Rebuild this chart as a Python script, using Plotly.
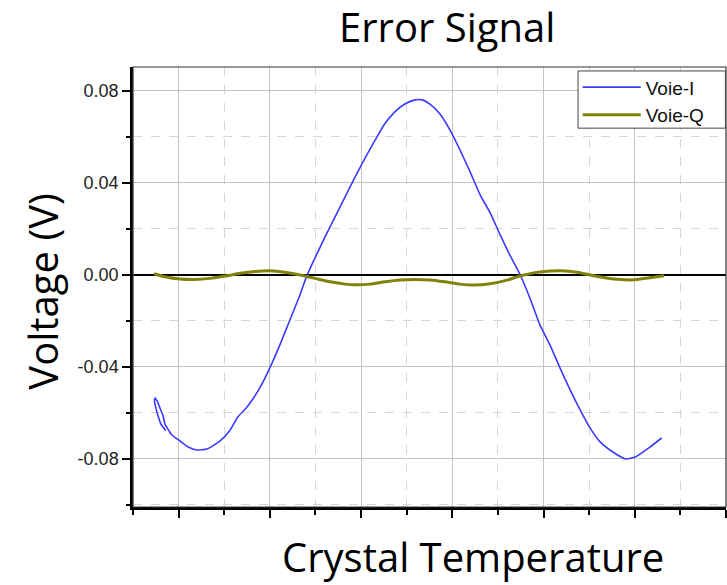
import plotly.graph_objects as go

# ---- data (arbitrary temperature units, voltage in V) ----
voie_i_x = [0.72, 0.61, 0.55, 0.50, 0.47, 0.48, 0.53, 0.59, 0.66, 0.70, 0.79, 0.85,
            1.03, 1.21, 1.40, 1.62, 1.91, 2.13, 2.30, 2.50, 2.78, 3.00, 3.22, 3.44, 3.66, 3.81,
            3.99, 4.21, 4.43, 4.65, 4.87, 5.09, 5.31, 5.52, 5.74, 5.96, 6.18, 6.34, 6.51, 6.73,
            6.95, 7.17, 7.39, 7.61, 7.83, 8.05, 8.26, 8.48, 8.70, 8.92, 9.14, 9.36, 9.69, 10.02,
            10.24, 10.52, 10.80, 11.02, 11.31, 11.59]
voie_i_y = [-0.0678, -0.0648, -0.0613, -0.0578, -0.0548, -0.0535, -0.0548, -0.0578, -0.0613,
            -0.0648, -0.0678, -0.0696, -0.0722, -0.0748, -0.0761, -0.0757,
            -0.0722, -0.0674, -0.0617, -0.0574, -0.0491, -0.0404, -0.0304, -0.0196, -0.0087,
            -0.0004, 0.0074, 0.0165, 0.0252, 0.0339, 0.0426, 0.0509, 0.0587, 0.0657, 0.0709,
            0.0743, 0.0761, 0.0761, 0.0743, 0.0700, 0.0630, 0.0543, 0.0448, 0.0348, 0.0270,
            0.0174, 0.0087, 0.0004, -0.0100, -0.0217, -0.0304, -0.0404, -0.0543, -0.0665,
            -0.0726, -0.0770, -0.0800, -0.0791, -0.0752, -0.0709]

voie_q_x = [0.46, 0.70, 1.03, 1.36, 1.69, 2.02, 2.35, 2.68, 3.00, 3.33, 3.66, 3.99, 4.32, 4.65,
            4.87, 5.20, 5.52, 5.85, 6.18, 6.51, 6.84, 7.17, 7.50, 7.83, 8.16, 8.48, 8.81, 9.14,
            9.40, 9.73, 10.02, 10.35, 10.68, 11.01, 11.33, 11.64]
voie_q_y = [0.0005, -0.0008, -0.0018, -0.0020, -0.0015, -0.0005, 0.0007, 0.0015, 0.0018,
            0.0012, 0.0000, -0.0015, -0.0030, -0.0040, -0.0043, -0.0040, -0.0030, -0.0022,
            -0.0020, -0.0022, -0.0030, -0.0040, -0.0044, -0.0038, -0.0025, -0.0005, 0.0010,
            0.0017, 0.0018, 0.0012, 0.0000, -0.0012, -0.0020, -0.0021, -0.0012, -0.0004]

y_tick_vals = [-0.08, -0.04, 0.00, 0.04, 0.08]
y_tick_text = ["-0.08", "-0.04", "0.00", "0.04", "0.08"]

title_text = "Error Signal"
x_title = "Crystal Temperature"
y_title = "Voltage (V)"

BIG_FONT = "Open Sans, Carlito, Calibri, sans-serif"
SMALL_FONT = "Liberation Sans, Arial, sans-serif"

fig = go.Figure()
fig.add_trace(go.Scatter(x=voie_i_x, y=voie_i_y, mode="lines", name="Voie-I",
                         line=dict(color="#3b3bff", width=1.6, shape="spline", smoothing=0.5)))
fig.add_trace(go.Scatter(x=voie_q_x, y=voie_q_y, mode="lines", name="Voie-Q",
                         line=dict(color="#82820a", width=3, shape="spline", smoothing=0.6)))

fig.update_layout(
    width=727, height=585,
    margin=dict(l=133, r=1, t=67, b=78),
    paper_bgcolor="white", plot_bgcolor="white",
    showlegend=True,
    legend=dict(x=0.75, y=0.997, xanchor="left", yanchor="top",
                bgcolor="rgba(0,0,0,0)", borderwidth=0,
                font=dict(family=SMALL_FONT, size=19, color="#111"),
                tracegroupgap=0, itemwidth=58),
    shapes=[
        dict(type="rect", xref="paper", yref="paper", x0=0, x1=1, y0=0, y1=1,
             line=dict(color="#333", width=1.2), layer="above"),
        # legend frame
        dict(type="rect", xref="paper", yref="paper", x0=0.7505, x1=0.999, y0=0.861, y1=0.991,
             line=dict(color="#444", width=1), fillcolor="white", layer="above"),
    ],
    annotations=[
        dict(text=title_text, xref="paper", yref="paper", x=0.53, y=1.091,
             xanchor="center", yanchor="middle", showarrow=False,
             font=dict(family=BIG_FONT, size=40, color="black")),
        dict(text=x_title, xref="paper", yref="paper", x=0.574, y=-0.112,
             xanchor="center", yanchor="middle", showarrow=False,
             font=dict(family=BIG_FONT, size=40, color="black")),
        dict(text=y_title, xref="paper", yref="paper", x=-0.153, y=0.49,
             xanchor="center", yanchor="middle", showarrow=False, textangle=-90,
             font=dict(family=BIG_FONT, size=40, color="black")),
    ],
)

fig.update_xaxes(
    range=[0, 13], tick0=1, dtick=2, showticklabels=False,
    ticks="outside", ticklen=8, tickwidth=2, tickcolor="black",
    showline=True, linecolor="black", linewidth=2.5,
    showgrid=True, gridcolor="#c4c4c4", gridwidth=1, zeroline=False,
    minor=dict(dtick=1, tick0=0, ticks="outside", ticklen=5, tickwidth=2, tickcolor="black",
               showgrid=True, gridcolor="#d6d6d6", griddash="dash", gridwidth=1),
)
fig.update_yaxes(
    range=[-0.1009, 0.0904], tickvals=y_tick_vals, ticktext=y_tick_text,
    ticks="outside", ticklen=8, tickwidth=2, tickcolor="black",
    tickfont=dict(family=SMALL_FONT, size=18, color="#222"),
    showline=True, linecolor="black", linewidth=2.5,
    showgrid=True, gridcolor="#c4c4c4", gridwidth=1,
    zeroline=True, zerolinecolor="black", zerolinewidth=2,
    minor=dict(dtick=0.02, tick0=0, ticks="outside", ticklen=4, tickwidth=2, tickcolor="black",
               showgrid=True, gridcolor="#d6d6d6", griddash="dash", gridwidth=1),
)

fig.write_html("out.html")
